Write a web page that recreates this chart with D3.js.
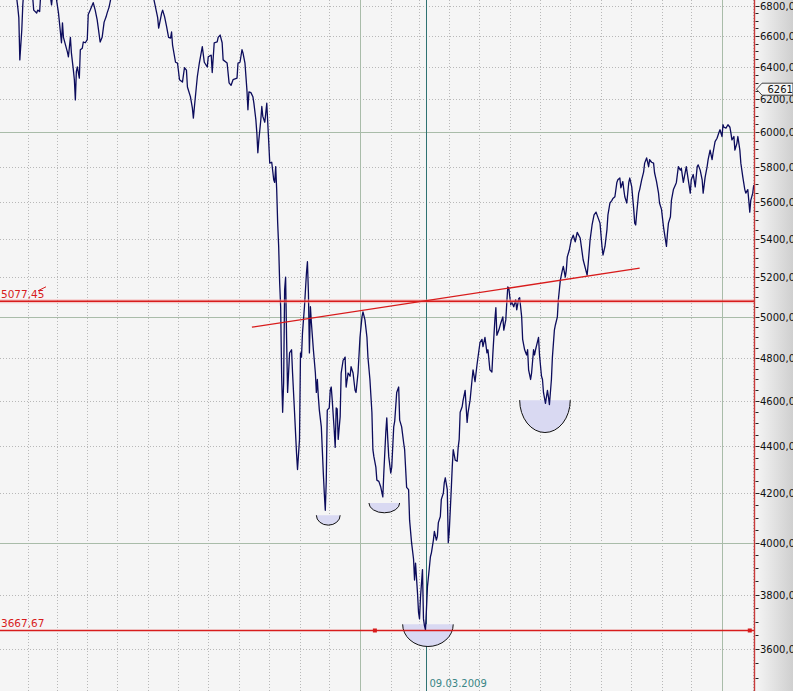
<!DOCTYPE html>
<html><head><meta charset="utf-8">
<script src="https://cdn.jsdelivr.net/npm/d3@7"></script>
<style>html,body{margin:0;padding:0;background:#f5f5f5;overflow:hidden}svg{display:block}</style>
</head><body><svg id="c" width="793" height="691"></svg>
<script>
// ---------- DATA ----------
const startDate = Date.UTC(2008, 0, 1);           // day 0
const days = [0,6,11,15,19,21,22,23,25,26,27,30,34,36,37,40,41,43,44,48,53,55,56,58,60,62,64,65,66,67,71,72,74,75,77,78,79,80,81,83,84,86,87,89,91,92,94,97,99,101,104,106,108,110,111,113,115,119,124,129,134,139,144,149,154,157,159,162,163,166,167,169,171,173,175,176,177,180,182,184,187,189,191,192,195,197,198,199,202,204,207,209,212,213,216,217,219,222,223,225,227,228,232,234,236,238,242,243,245,247,248,250,252,253,254,256,258,259,261,262,263,264,266,267,268,270,271,272,273,274,275,277,279,280,281,282,283,284,285,286,287,288,289,290,291,292,293,295,297,298,300,302,303,305,306,307,308,310,312,313,314,315,316,317,319,321,322,323,324,325,327,329,330,331,332,333,335,336,337,338,340,341,342,343,344,346,347,349,351,352,354,356,357,359,361,362,364,366,368,369,371,373,374,376,378,379,380,382,383,385,387,389,390,392,393,394,395,397,398,400,401,403,405,406,408,410,411,413,415,416,418,420,421,422,424,425,426,427,429,430,431,432,433,434,436,437,438,440,441,443,444,445,447,448,450,451,452,454,455,456,458,459,460,462,464,465,466,467,469,470,472,474,475,477,479,480,482,484,486,487,489,490,492,494,495,497,499,500,502,503,504,506,508,510,511,513,514,515,516,518,519,521,523,524,526,527,529,530,532,534,535,536,538,539,541,542,543,544,546,547,549,550,551,553,555,556,557,559,560,562,563,565,566,568,570,571,573,574,575,577,579,581,583,585,588,591,595,596,598,600,602,604,606,608,610,611,613,615,616,618,620,621,623,625,626,628,629,631,632,633,635,637,638,640,642,643,644,645,647,648,650,652,653,655,657,658,660,662,663,665,667,668,670,672,673,675,676,677,679,680,682,684,685,687,689,690,692,694,695,697,699,700,702,704,706,707,709,711,712,714,716,717,719,721,722,724,726,728,729,731,732,733,735,737,739,740,741,743,744,746,747,749,750,752,754,755,757,758,759,760,762,763];
const closes = [7950,7800,7650,7350,6900,6785,6720,6445,6640,6805,6900,6950,6900,6855,6770,6750,6770,6760,6870,6950,6900,6805,6870,6880,6840,6750,6620,6555,6685,6590,6495,6465,6590,6490,6380,6320,6195,6370,6400,6330,6510,6520,6560,6555,6575,6740,6770,6820,6770,6705,6560,6590,6690,6725,6750,6790,6855,6950,7050,7000,7150,7200,7100,7050,6950,6880,6815,6720,6650,6750,6770,6725,6660,6590,6585,6625,6540,6430,6425,6320,6305,6395,6380,6275,6215,6145,6085,6150,6340,6425,6530,6430,6400,6465,6475,6365,6555,6560,6590,6605,6555,6445,6425,6300,6285,6320,6330,6425,6430,6510,6490,6425,6255,6135,6245,6240,6215,6175,6075,5995,5880,5955,6075,6155,6095,6060,6115,6175,6055,5940,5820,5825,5725,5710,5800,5670,5485,5360,5170,5050,4715,4550,4685,5135,5200,4890,4640,4825,4840,4730,4550,4370,4300,4430,4825,4805,4920,5050,5220,5280,5120,4825,5050,4970,4840,4730,4640,4700,4620,4560,4485,4285,4200,4130,4255,4560,4570,4650,4665,4605,4470,4395,4570,4565,4430,4530,4730,4790,4805,4665,4730,4715,4760,4730,4650,4640,4730,4900,5000,5025,4985,4900,4805,4700,4550,4385,4355,4310,4255,4250,4225,4185,4285,4460,4525,4430,4355,4285,4310,4485,4510,4640,4665,4515,4485,4415,4385,4225,4215,4090,4000,3935,3855,3920,3805,3735,3710,3790,3895,3710,3685,3670,3745,3830,3905,3945,3960,4010,4045,4010,4025,4080,4105,4175,4200,4245,4265,4215,4000,4045,4215,4310,4385,4340,4335,4395,4430,4550,4575,4605,4650,4505,4550,4605,4700,4745,4690,4770,4840,4875,4890,4855,4900,4825,4840,4745,4735,4825,4985,5045,4910,4935,4970,5000,4935,4985,5070,5150,5145,5060,5075,5050,5085,5035,5090,5095,5000,4890,4840,4815,4840,4745,4700,4730,4840,4815,4840,4860,4900,4815,4715,4700,4640,4590,4650,4620,4585,4700,4805,4935,4960,5000,5085,5185,5235,5255,5200,5235,5305,5340,5395,5420,5385,5435,5405,5290,5210,5265,5395,5475,5530,5545,5515,5485,5360,5315,5360,5450,5530,5595,5610,5620,5630,5710,5725,5735,5680,5715,5670,5630,5595,5710,5735,5685,5560,5485,5475,5540,5650,5670,5725,5770,5820,5850,5800,5840,5825,5820,5765,5715,5650,5595,5560,5465,5430,5360,5430,5485,5520,5610,5670,5695,5710,5800,5780,5790,5710,5770,5800,5725,5650,5725,5755,5685,5800,5810,5780,5725,5650,5740,5800,5840,5895,5840,5880,5945,5965,6000,6015,5975,6045,6030,6025,6045,6030,5995,5955,5975,5895,5935,5975,5895,5820,5740,5670,5650,5670,5610,5545,5610,5650,5695];

const levelValues = [5077.45, 3667.67];
const levelLabels = ["5077,45", "3667,67"];
const levelMarkerDays = [381, 759];           // handles on the 3667,67 line
const trendDays = [257, 648];
const trendValues = [4949, 5246];
const bowlStart = [322, 375, 409, 527];
const bowlEnd = [346, 406, 460, 578];
const bowlTop = [4110, 4160, 3690, 4605];
const bowlBottom = [4070, 4120, 3610, 4460];
const yTickValues = d3.range(3600, 6801, 200);
const yMinorValues = d3.range(3450, 6851, 50);
const solidGridValues = [4000, 5000, 6000];
const cursorDay = 433;
const cursorLabel = "09.03.2009";
const tagValue = 6261;
const tagLabel = "6261";

// ---------- SETUP ----------
const W = 793, H = 691, axisX = 754.5;
const FONT = "'DejaVu Sans', Verdana, sans-serif";
const toDate = d => new Date(startDate + d * 864e5);
const x = d3.scaleUtc()
  .domain([new Date(Date.UTC(2009, 0, 1)), new Date(Date.UTC(2010, 0, 1))])
  .range([360, 722]);
const y = d3.scaleLog().domain([4000, 6000]).range([542.7, 132.3]);
const px = v => Math.round(v) + 0.5;

const svg = d3.select("#c");
const defs = svg.append("defs");
const grad = defs.append("linearGradient").attr("id", "axg").attr("x1", 0).attr("x2", 1).attr("y1", 0).attr("y2", 0);
grad.append("stop").attr("offset", "0%").attr("stop-color", "#f6f6f6");
grad.append("stop").attr("offset", "100%").attr("stop-color", "#cfcfcf");
defs.append("clipPath").attr("id", "clip").append("rect").attr("x", 0).attr("y", 0).attr("width", axisX).attr("height", H);

svg.append("rect").attr("width", W).attr("height", H).attr("fill", "#f5f5f5");
svg.append("rect").attr("x", axisX).attr("width", W - axisX).attr("height", H).attr("fill", "url(#axg)");

const plot = svg.append("g").attr("clip-path", "url(#clip)");

// vertical month grid
const months = d3.utcMonth.range(new Date(Date.UTC(2008, 1, 1)), new Date(Date.UTC(2010, 2, 1)));
plot.selectAll(".vg").data(months.filter(m => m.getUTCMonth() !== 0)).join("line")
  .attr("x1", d => px(x(d))).attr("x2", d => px(x(d))).attr("y1", 0).attr("y2", H)
  .attr("stroke", "#b8b8b8").attr("stroke-dasharray", "1,2");
// horizontal dotted grid
plot.selectAll(".hg").data(yTickValues.filter(v => !solidGridValues.includes(v))).join("line")
  .attr("x1", 0).attr("x2", axisX).attr("y1", d => px(y(d))).attr("y2", d => px(y(d)))
  .attr("stroke", "#b8b8b8").attr("stroke-dasharray", "1,2");
// solid grid
plot.selectAll(".hs").data(solidGridValues).join("line")
  .attr("x1", 0).attr("x2", axisX).attr("y1", d => px(y(d))).attr("y2", d => px(y(d)))
  .attr("stroke", "#a9bca9");
plot.selectAll(".vs").data(months.filter(m => m.getUTCMonth() === 0)).join("line")
  .attr("x1", d => px(x(d))).attr("x2", d => px(x(d))).attr("y1", 0).attr("y2", H)
  .attr("stroke", "#a9bca9");
// cursor
const cx = px(x(toDate(cursorDay)));
plot.append("line").attr("x1", cx).attr("x2", cx).attr("y1", 0).attr("y2", H)
  .attr("stroke", "#2f7272").attr("stroke-width", 1);

// bowls
plot.selectAll(".bowl").data(bowlStart.map((s, i) => i)).join("path")
  .attr("d", i => {
    const x1 = x(toDate(bowlStart[i])), x2 = x(toDate(bowlEnd[i]));
    const yt = y(bowlTop[i]), yb = y(bowlBottom[i]);
    return `M${x1},${yt} A${(x2 - x1) / 2},${yb - yt} 0 0 0 ${x2},${yt}`;
  })
  .attr("fill", "#d9d9f2").attr("stroke", "#111").attr("stroke-width", 1);

// price line
const series = days.map((d, i) => ({ date: toDate(d), v: closes[i] }));
plot.append("path").datum(series)
  .attr("d", d3.line().x(d => x(d.date)).y(d => y(d.v)))
  .attr("fill", "none").attr("stroke", "#0c0c5c").attr("stroke-width", 1.3).attr("stroke-linejoin", "round");

// level lines
const red = "#d81c1c";
plot.append("line").attr("x1", 0).attr("x2", axisX).attr("y1", y(levelValues[0])).attr("y2", y(levelValues[0]))
  .attr("stroke", "#f4a0a0").attr("stroke-width", 4).attr("opacity", 0.5);
levelValues.forEach((v, i) => {
  plot.append("line").attr("x1", 0).attr("x2", axisX).attr("y1", y(v)).attr("y2", y(v))
    .attr("stroke", red).attr("stroke-width", 1.4);
  plot.append("text").attr("x", 1).attr("y", y(v) - 3).text(levelLabels[i])
    .attr("fill", red).attr("font-family", FONT).attr("font-size", "10.5px");
});
plot.append("line").attr("x1", 38).attr("x2", 46)
  .attr("y1", y(levelValues[0]) - 10.5).attr("y2", y(levelValues[0]) - 14.5)
  .attr("stroke", red).attr("stroke-width", 1);
plot.selectAll(".mk").data(levelMarkerDays).join("rect")
  .attr("x", d => x(toDate(d)) - 2).attr("y", y(levelValues[1]) - 2).attr("width", 4).attr("height", 4)
  .attr("fill", red);

// trend line
plot.append("path").datum(trendDays.map((d, i) => ({ date: toDate(d), v: trendValues[i] })))
  .attr("d", d3.line().x(d => x(d.date)).y(d => y(d.v)))
  .attr("stroke", red).attr("stroke-width", 1.3).attr("fill", "none");

// cursor label
svg.append("text").attr("x", cx + 3).attr("y", 687).text(cursorLabel)
  .attr("fill", "#3a8686").attr("font-family", FONT).attr("font-size", "10px");

// right axis
svg.append("line").attr("x1", axisX).attr("x2", axisX).attr("y1", 0).attr("y2", H)
  .attr("stroke", "#c83a3a").attr("stroke-width", 1.4);
svg.selectAll(".mt").data(yMinorValues.filter(v => v % 200 !== 0)).join("line")
  .attr("x1", axisX + 1).attr("x2", axisX + 4).attr("y1", d => px(y(d))).attr("y2", d => px(y(d)))
  .attr("stroke", "#222");
svg.selectAll(".Mt").data(yTickValues).join("line")
  .attr("x1", axisX + 1).attr("x2", axisX + 5).attr("y1", d => px(y(d))).attr("y2", d => px(y(d)))
  .attr("stroke", "#222");
svg.selectAll(".tl").data(yTickValues).join("text")
  .attr("x", axisX + 5.5).attr("y", d => y(d) + 4)
  .text(d => d3.format(".1f")(d).replace(".", ","))
  .attr("fill", "#111").attr("font-family", FONT).attr("font-size", "10px");

// value tag
const ty = y(tagValue);
svg.append("path")
  .attr("d", `M${axisX + 2},${ty} L${axisX + 7.5},${ty - 6} L${W},${ty - 6} L${W},${ty + 6} L${axisX + 7.5},${ty + 6} Z`)
  .attr("fill", "#f7f7f7").attr("stroke", "#444").attr("stroke-width", 1);
svg.append("text").attr("x", axisX + 13).attr("y", ty + 4).text(tagLabel)
  .attr("fill", "#111").attr("font-family", FONT).attr("font-size", "10px");
</script>
</body></html>
